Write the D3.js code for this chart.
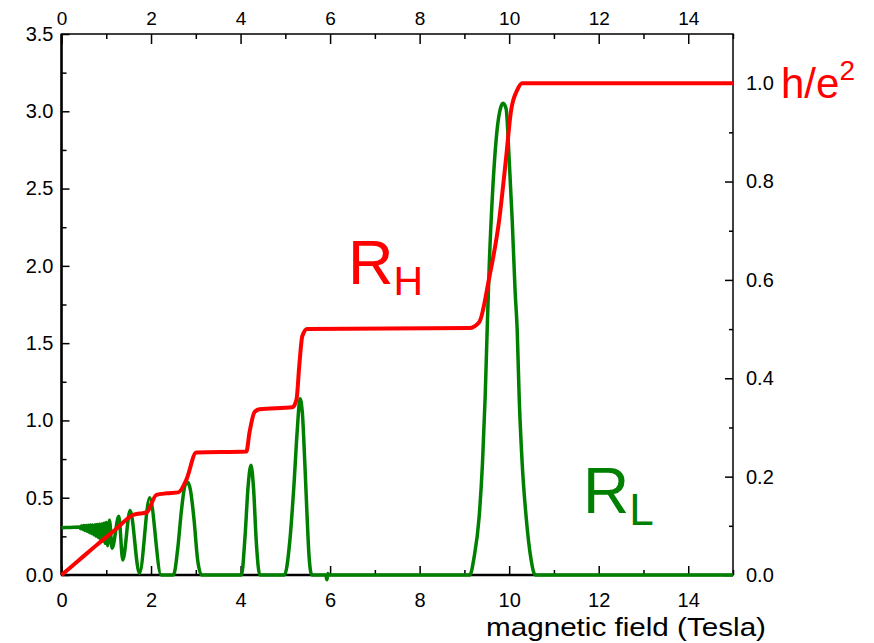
<!DOCTYPE html>
<html>
<head>
<meta charset="utf-8">
<script src="https://cdn.jsdelivr.net/npm/d3@7"></script>
<style>
  body { margin: 0; background: #fff; }
  svg text { font-family: "Liberation Sans", Arial, sans-serif; }
</style>
</head>
<body>
<div id="chart"></div>
<script>
// R_L (green, left axis)
var greenB = [0, 0.20, 0.40, 0.425, 0.45, 0.475, 0.50, 0.525, 0.55, 0.575, 0.60, 0.625, 0.65, 0.675,
  0.70, 0.725, 0.75, 0.775, 0.80, 0.825, 0.85, 0.875, 0.90, 0.925, 0.95, 0.975, 1.00, 1.03,
  1.071, 1.131, 1.28, 1.369, 1.533, 1.741, 1.97, 2.225, 2.50, 2.60, 2.68, 2.76, 2.82, 2.88,
  2.96, 3.04, 3.13, 4.02, 4.10, 4.17, 4.234, 4.29, 4.35, 4.43, 4.98, 5.10, 5.19,
  5.265, 5.328, 5.38, 5.43, 5.48, 5.53, 5.59, 5.9, 5.93, 5.95, 5.97, 9.12, 9.219, 9.33,
  9.404, 9.464, 9.509, 9.554, 9.621, 9.71, 9.821, 9.866, 9.933, 10.0, 10.067, 10.134, 10.179,
  10.223, 10.29, 10.379, 10.491, 10.58, 15];
var greenL = [0.306, 0.308, 0.31, 0.300, 0.318, 0.295, 0.320, 0.288, 0.321, 0.282, 0.322, 0.275, 0.323, 0.268,
  0.324, 0.26, 0.325, 0.252, 0.326, 0.243, 0.328, 0.232, 0.33, 0.22, 0.335, 0.205, 0.34, 0.19,
  0.355, 0.173, 0.38, 0.097, 0.417, 0.01, 0.50, 0, 0, 0.18, 0.42, 0.58, 0.60, 0.55,
  0.36, 0.10, 0, 0, 0.25, 0.58, 0.71, 0.56, 0.22, 0, 0, 0.22, 0.57,
  0.93, 1.14, 1.05, 0.76, 0.42, 0.12, 0, 0, -0.03, 0.01, 0, 0, 0.119, 0.378,
  0.724, 1.154, 1.588, 1.996, 2.43, 2.819, 3.033, 3.052, 3.014, 2.69, 2.301, 1.828, 1.588,
  1.154, 0.726, 0.376, 0.097, 0, 0];

// R_H (red, right axis, units of h/e^2)
var redB = [0, 0.4, 0.8, 1.2, 1.60, 1.75, 1.90, 2.12, 2.35, 2.61, 2.79, 3.01, 4.13, 4.20, 4.31, 4.42, 5.16, 5.25,
  5.31, 5.38, 5.49, 9.11, 9.33, 9.55, 9.78, 9.93, 10.04, 10.18, 10.29, 15];
var redR = [0, 0.031, 0.062, 0.092, 0.122, 0.125, 0.127, 0.163, 0.166, 0.168, 0.194, 0.249, 0.251, 0.29, 0.331, 0.337, 0.341, 0.357,
  0.424, 0.486, 0.5, 0.502, 0.514, 0.602, 0.724, 0.847, 0.943, 0.986, 1.0, 1.0];

var xTicks = [0, 2, 4, 6, 8, 10, 12, 14];
var xMinor = [1, 3, 5, 7, 9, 11, 13, 15];
var leftTicks = [0, 0.5, 1.0, 1.5, 2.0, 2.5, 3.0, 3.5];
var leftMinor = [0.25, 0.75, 1.25, 1.75, 2.25, 2.75, 3.25];
var rightTicks = [0, 0.2, 0.4, 0.6, 0.8, 1.0];
var rightMinor = [0.1, 0.3, 0.5, 0.7, 0.9];

var w = 874, h = 643;
var plotLeft = 61.5, plotRight = 733, plotTop = 34, plotBottom = 575;

var x = d3.scaleLinear().domain([0, 15]).range([plotLeft, plotRight]);
var yL = d3.scaleLinear().domain([0, 3.5]).range([plotBottom, plotTop]);
var yR = d3.scaleLinear().domain([0, 1.1]).range([plotBottom, plotTop]);

var svg = d3.select("#chart").append("svg")
  .attr("width", w).attr("height", h);

// frame
svg.append("rect")
  .attr("x", plotLeft).attr("y", plotTop)
  .attr("width", plotRight - plotLeft).attr("height", plotBottom - plotTop)
  .attr("fill", "none").attr("stroke", "#000").attr("stroke-width", 1.5);
svg.append("line").attr("x1", plotLeft).attr("x2", plotLeft).attr("y1", plotTop).attr("y2", plotBottom)
  .attr("stroke", "#000").attr("stroke-width", 2.5);
svg.append("line").attr("x1", plotLeft).attr("x2", plotRight).attr("y1", plotBottom).attr("y2", plotBottom)
  .attr("stroke", "#000").attr("stroke-width", 2.5);

function styleAxis(g, size) {
  g.select(".domain").remove();
  g.selectAll("line").attr("stroke", "#000").attr("stroke-width", 1.5);
  g.selectAll("text").attr("font-size", size).attr("fill", "#000");
}

// bottom axis
svg.append("g").attr("transform", "translate(0," + plotBottom + ")")
  .call(d3.axisBottom(x).tickValues(xTicks).tickFormat(d3.format("d")).tickSize(-9).tickPadding(18))
  .call(styleAxis, "20px");
svg.append("g").attr("transform", "translate(0," + plotBottom + ")")
  .call(d3.axisBottom(x).tickValues(xMinor).tickFormat("").tickSize(-5))
  .call(styleAxis, "20px");

// top axis
svg.append("g").attr("transform", "translate(0," + plotTop + ")")
  .call(d3.axisTop(x).tickValues(xTicks).tickFormat(d3.format("d")).tickSize(-10).tickPadding(9))
  .call(styleAxis, "19px");
svg.append("g").attr("transform", "translate(0," + plotTop + ")")
  .call(d3.axisTop(x).tickValues(xMinor).tickFormat("").tickSize(-5))
  .call(styleAxis, "19px");

// left axis
svg.append("g").attr("transform", "translate(" + plotLeft + ",0)")
  .call(d3.axisLeft(yL).tickValues(leftTicks).tickFormat(d3.format(".1f")).tickSize(-8).tickPadding(8))
  .call(styleAxis, "20px");
svg.append("g").attr("transform", "translate(" + plotLeft + ",0)")
  .call(d3.axisLeft(yL).tickValues(leftMinor).tickFormat("").tickSize(-5))
  .call(styleAxis, "20px");

// right axis
svg.append("g").attr("transform", "translate(" + plotRight + ",0)")
  .call(d3.axisRight(yR).tickValues(rightTicks).tickFormat(d3.format(".1f")).tickSize(-8).tickPadding(13))
  .call(styleAxis, "20px");
svg.append("g").attr("transform", "translate(" + plotRight + ",0)")
  .call(d3.axisRight(yR).tickValues(rightMinor).tickFormat("").tickSize(-4))
  .call(styleAxis, "20px");

// curves
var greenLine = d3.line()
  .x(function(d, i) { return x(greenB[i]); })
  .y(function(d) { return yL(d); })
  .curve(d3.curveMonotoneX);
svg.append("path").datum(greenL)
  .attr("d", greenLine)
  .attr("fill", "none").attr("stroke", "#008000").attr("stroke-width", 3.5);

var redLine = d3.line()
  .x(function(d, i) { return x(redB[i]); })
  .y(function(d) { return yR(d); })
  .curve(d3.curveMonotoneX);
svg.append("path").datum(redR)
  .attr("d", redLine)
  .attr("fill", "none").attr("stroke", "#ff0000").attr("stroke-width", 4);

// labels
var rh = svg.append("text").attr("x", 348).attr("y", 284).attr("fill", "#ff0000").attr("font-size", "63px");
rh.append("tspan").text("R");
rh.append("tspan").attr("font-size", "41px").attr("dy", 11).text("H");

var rl = svg.append("text").attr("x", 583).attr("y", 513).attr("fill", "#008000").attr("font-size", "64px");
rl.append("tspan").text("R");
rl.append("tspan").attr("font-size", "44px").attr("dy", 12).text("L");

var he = svg.append("text").attr("x", 781).attr("y", 98).attr("fill", "#ff0000").attr("font-size", "42px");
he.append("tspan").text("h/e");
he.append("tspan").attr("font-size", "28px").attr("dy", -18).text("2");

svg.append("text")
  .attr("x", 486).attr("y", 636)
  .attr("font-size", "25px")
  .attr("textLength", 280).attr("lengthAdjust", "spacingAndGlyphs")
  .attr("fill", "#000")
  .text("magnetic field (Tesla)");
</script>
</body>
</html>
